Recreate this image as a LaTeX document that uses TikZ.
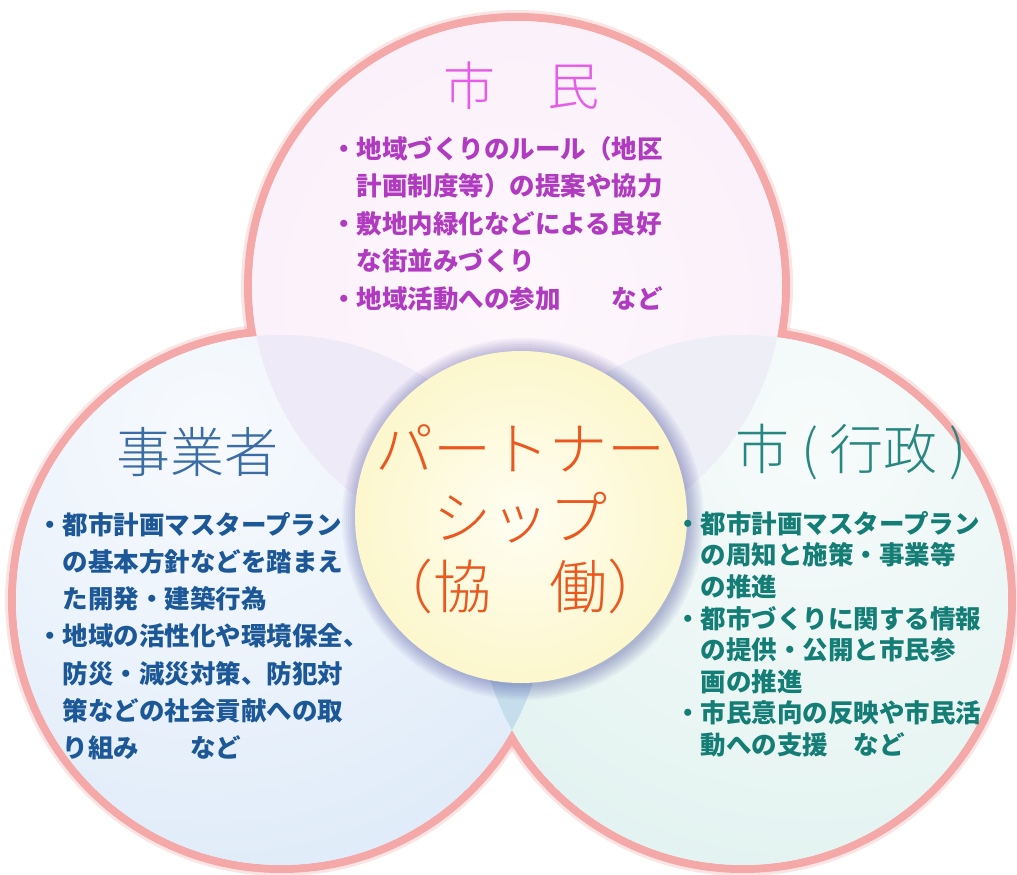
\documentclass[tikz,border=0pt]{standalone}
\usepackage{fontspec}
\newfontfamily\jp{Noto Sans CJK JP}
\IfFontExistsTF{Noto Sans CJK JP Light}
  {\newfontfamily\jpthin{Noto Sans CJK JP Light}}
  {\IfFontExistsTF{Noto Sans CJK JP DemiLight}
     {\newfontfamily\jpthin{Noto Sans CJK JP DemiLight}}
     {\newfontfamily\jpthin{Noto Sans CJK JP}}}
\usetikzlibrary{calc}
\definecolor{rimpink}{RGB}{244,168,168}
\definecolor{fillTop}{RGB}{249,234,247}
\definecolor{fillLeft}{RGB}{218,232,248}
\definecolor{fillRight}{RGB}{222,241,238}
\definecolor{lensTL}{RGB}{238,234,247}
\definecolor{lensTR}{RGB}{237,238,246}
\definecolor{lensB}{RGB}{198,222,236}
\definecolor{yelOut}{RGB}{249,240,168}
\definecolor{yelIn}{RGB}{255,254,242}
\definecolor{ttlShimin}{RGB}{230,92,232}
\definecolor{bodyShimin}{RGB}{176,58,192}
\definecolor{ttlJig}{RGB}{58,108,165}
\definecolor{bodyJig}{RGB}{28,88,152}
\definecolor{ttlShi}{RGB}{40,135,128}
\definecolor{bodyShi}{RGB}{20,125,118}
\definecolor{partnerC}{RGB}{234,88,32}
\tikzset{
  rim/.style={draw=rimpink, line width=8pt},
  rimglow/.style={draw=rimpink, line width=14pt, opacity=0.3},
  ttl/.style={inner sep=0pt, font=\jpthin\fontsize{54}{60}\selectfont},
  body/.style={inner sep=0pt, anchor=north west, align=left},
  bodyfont/.style={font=\jp\bfseries\fontsize{25.5}{#1}\selectfont},
  halo/.style={fill=black!55!blue, opacity=0.035},
}
\begin{document}
\begin{tikzpicture}[x=1pt,y=-1pt]
\useasboundingbox (0,0) rectangle (1017,875);
\fill[white] (0,0) rectangle (1017,875);
\coordinate (cT) at (517,286);
\coordinate (cL) at (281,600);
\coordinate (cR) at (743,600);
\coordinate (cY) at (521,517);
% outer rim
\foreach \c in {cT,cL,cR}{\draw[rimglow] (\c) circle[radius=269pt];}
\foreach \c in {cT,cL,cR}{\draw[rim] (\c) circle[radius=269pt];}
% circle fills
\begin{scope}
\clip (cT) circle[radius=265pt];
\shade[inner color=fillTop!35!white, outer color=fillTop] ($(cT)+(0,10)$) circle[radius=520pt];
\end{scope}
\begin{scope}
\clip (cL) circle[radius=265pt];
\shade[inner color=fillLeft!20!white, outer color=fillLeft] ($(cL)+(-70,-170)$) circle[radius=560pt];
\end{scope}
\begin{scope}
\clip (cR) circle[radius=265pt];
\shade[inner color=fillRight!25!white, outer color=fillRight] ($(cR)+(70,-170)$) circle[radius=560pt];
\end{scope}
% overlaps
\begin{scope}
\clip (cL) circle[radius=265pt];
\fill[lensB] (cR) circle[radius=265pt];
\end{scope}
\begin{scope}
\clip (cT) circle[radius=265pt];
\fill[lensTL] (cL) circle[radius=265pt];
\end{scope}
\begin{scope}
\clip (cT) circle[radius=265pt];
\fill[lensTR] (cR) circle[radius=265pt];
\end{scope}
% yellow centre circle with soft halo
\foreach \r in {167,169,...,181}{\fill[halo] ($(cY)+(2,2)$) circle[radius=\r pt];}
\begin{scope}
\clip (cY) circle[radius=166pt];
\shade[inner color=yelIn, outer color=yelOut] (cY) circle[radius=330pt];
\end{scope}
% titles
\node[ttl, font=\jpthin\fontsize{52}{60}\selectfont, text=ttlShimin] (shimin) at (521,86) {市　民};
\node[ttl, text=ttlJig] (jig) at (197,452) {事業者};
\node[ttl, text=ttlShi] (shi) at (851,452) {市 ( 行政 )};
\node[ttl, align=center, font=\jpthin\fontsize{58}{69}\selectfont, text=partnerC] (part) at (520,519) {パートナー\\シップ\\（協　働）};
% body texts
\node[body, bodyfont=37.5, text=bodyShimin] (txtT) at (331,136) {・地域づくりのルール（地区\\　計画制度等）の提案や協力\\・敷地内緑化などによる良好\\　な街並みづくり\\・地域活動への参加　　など};
\node[body, bodyfont=37.2, text=bodyJig] (txtL) at (37,512) {・都市計画マスタープラン\\　の基本方針などを踏まえ\\　た開発・建築行為\\・地域の活性化や環境保全、\\　防災・減災対策、防犯対\\　策などの社会貢献への取\\　り組み　　など};
\node[body, bodyfont=31.6, text=bodyShi] (txtR) at (675,511) {・都市計画マスタープラン\\　の周知と施策・事業等\\　の推進\\・都市づくりに関する情報\\　の提供・公開と市民参\\　画の推進\\・市民意向の反映や市民活\\　動への支援　など};
\end{tikzpicture}
\end{document}
